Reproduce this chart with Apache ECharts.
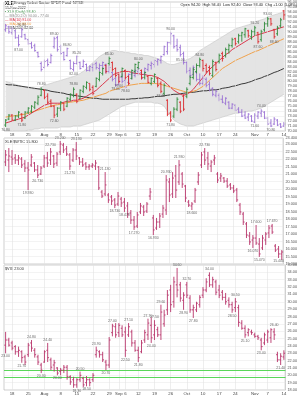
<!DOCTYPE html>
<html><head><meta charset="utf-8">
<script src="https://cdn.jsdelivr.net/npm/echarts@6/dist/echarts.min.js"></script>
<style>html,body{margin:0;padding:0;background:#fff}#c{width:300px;height:397px}</style>
</head><body><div id="c"></div>
<script>
const dates = ['2022-07-14','2022-07-15','2022-07-18','2022-07-19','2022-07-20','2022-07-21','2022-07-22','2022-07-25','2022-07-26','2022-07-27','2022-07-28','2022-07-29',
'2022-08-01','2022-08-02','2022-08-03','2022-08-04','2022-08-05','2022-08-08','2022-08-09','2022-08-10','2022-08-11','2022-08-12','2022-08-15','2022-08-16','2022-08-17','2022-08-18','2022-08-19','2022-08-22','2022-08-23','2022-08-24','2022-08-25','2022-08-26','2022-08-29','2022-08-30','2022-08-31',
'2022-09-01','2022-09-02','2022-09-06','2022-09-07','2022-09-08','2022-09-09','2022-09-12','2022-09-13','2022-09-14','2022-09-15','2022-09-16','2022-09-19','2022-09-20','2022-09-21','2022-09-22','2022-09-23','2022-09-26','2022-09-27','2022-09-28','2022-09-29','2022-09-30',
'2022-10-03','2022-10-04','2022-10-05','2022-10-06','2022-10-07','2022-10-10','2022-10-11','2022-10-12','2022-10-13','2022-10-14','2022-10-17','2022-10-18','2022-10-19','2022-10-20','2022-10-21','2022-10-24','2022-10-25','2022-10-26','2022-10-27','2022-10-28','2022-10-31',
'2022-11-01','2022-11-02','2022-11-03','2022-11-04','2022-11-07','2022-11-08','2022-11-09','2022-11-10','2022-11-11','2022-11-14'];
const tickDates = ['2022-07-18','2022-07-25','2022-08-01','2022-08-08','2022-08-15','2022-08-22','2022-08-29','2022-09-01','2022-09-06','2022-09-12','2022-09-19','2022-09-26','2022-10-03','2022-10-10','2022-10-17','2022-10-24','2022-11-01','2022-11-07','2022-11-14'];
const tickLabels = ['18','25','Aug','8','15','22','29','Sep','6','12','19','26','Oct','10','17','24','Nov','7','14'];

// XLE daily bars [open, high, low, close]
const xleBars = [[71.2,72.4,70.8,72.2],[72.4,73.4,72.2,73.2],[73.2,73.4,72.0,72.2],[72.2,73.2,72.0,73.0],[73.0,74.0,72.6,73.8],[73.4,73.6,71.8,72.2],[72.6,74.0,72.4,73.8],[73.8,74.8,73.4,74.6],[74.0,75.2,73.6,75.0],[74.8,76.0,74.4,75.8],[75.6,77.2,75.2,76.8],[77.2,78.8,77.0,78.4],
[78.2,78.4,76.4,76.8],[77.0,77.6,75.4,75.8],[76.0,76.4,74.8,75.0],[75.0,75.2,72.6,73.2],[73.4,74.8,72.8,74.6],[74.6,76.0,74.0,75.8],[75.6,75.6,74.0,74.4],[75.0,76.8,74.8,76.6],[76.4,77.6,76.0,77.4],[77.2,78.8,76.8,78.4],[77.4,77.6,75.6,76.0],[76.6,78.4,76.4,78.2],[78.0,79.2,77.6,79.0],[78.8,80.0,78.4,79.8],[79.6,79.6,78.0,78.4],[78.8,79.2,77.2,77.6],[79.0,80.8,78.8,80.6],[80.4,82.0,80.0,81.8],[81.6,82.8,81.2,82.6],[83.2,83.4,81.6,82.0],[83.6,85.0,83.2,84.6],[83.8,84.0,82.0,82.4],[82.6,82.8,80.8,81.2],
[81.4,81.6,79.6,80.0],[81.0,82.8,80.8,82.6],[82.2,82.4,80.4,80.8],[81.0,81.2,79.2,79.6],[80.6,82.4,80.4,82.2],[82.0,83.6,81.6,83.4],[82.8,84.0,82.4,83.8],[82.2,82.4,80.4,80.8],[80.8,82.0,80.4,81.8],[81.0,81.2,79.6,79.8],[79.6,80.8,79.2,80.6],[80.0,81.6,79.6,81.4],[80.6,80.8,78.8,79.2],[79.6,80.0,77.6,78.0],[77.6,79.6,77.2,79.2],[76.2,76.4,73.0,73.4],[73.6,74.0,71.8,72.2],[73.0,74.8,72.6,74.4],[74.4,76.8,74.0,76.4],[75.8,76.0,73.6,74.0],[77.0,77.4,74.0,74.4],
[77.0,78.8,76.6,78.4],[79.6,81.2,79.2,80.8],[80.8,82.8,80.4,82.4],[82.0,83.6,81.6,83.2],[83.2,84.8,82.8,84.4],[84.2,84.4,82.0,82.6],[83.2,83.6,81.6,82.0],[82.8,83.2,81.2,81.6],[81.2,84.4,80.8,84.0],[83.8,84.0,82.0,82.4],[84.0,85.6,83.6,85.2],[85.6,86.0,84.0,84.6],[85.2,86.8,84.8,86.4],[86.4,87.6,85.6,87.2],[87.2,88.8,86.8,88.4],[88.6,88.8,87.2,87.6],[88.0,89.6,87.6,89.2],[89.2,90.0,88.0,89.8],[89.4,90.8,88.8,90.6],[90.2,90.4,88.8,89.2],[89.0,90.4,88.4,90.0],
[90.0,91.2,89.2,90.8],[89.8,90.0,87.6,88.0],[88.4,90.4,88.0,90.0],[90.4,92.0,90.0,91.6],[91.6,93.0,91.0,92.6],[92.6,92.8,91.2,91.6],[90.4,90.6,88.6,89.0],[89.6,91.2,89.2,90.8],[91.2,92.8,90.8,92.4],[94.2,94.4,92.4,93.4]];

// comparison overlay (purple) [open, high, low, close]
const cmpBars = [[90.4,91.6,90.0,91.2],[91.0,91.2,89.6,90.0],[89.8,91.0,89.4,90.6],[90.2,90.4,88.6,88.8],[88.8,89.4,87.0,87.4],[89.0,90.8,88.8,90.4],[89.4,89.6,88.4,88.6],[88.4,88.6,87.4,87.6],[87.6,88.0,86.6,86.8],[87.2,87.6,86.0,86.2],[85.8,86.0,84.8,85.0],[83.6,84.0,82.0,82.4],
[82.8,84.4,82.6,84.0],[84.2,84.6,83.0,83.4],[83.8,85.6,83.6,85.2],[87.0,89.0,86.6,88.6],[88.8,89.2,86.0,86.4],[87.0,87.4,85.4,85.6],[85.8,86.0,84.2,84.4],[85.2,86.8,85.0,86.6],[84.2,84.4,82.4,82.6],[82.4,84.0,82.0,83.6],[83.6,85.2,83.4,85.0],[83.8,84.0,82.4,82.6],[83.0,84.4,82.8,84.0],[83.4,83.6,82.0,82.2],[82.2,83.2,82.0,83.0],[82.8,83.6,82.0,83.4],[83.6,84.0,82.4,82.8],[82.6,83.6,82.0,83.2],[83.2,84.0,82.4,83.8],[83.4,83.6,81.6,82.0],[82.0,83.2,81.6,82.8],[81.8,82.0,80.0,80.4],[80.6,80.8,79.0,79.2],
[79.4,81.2,79.2,80.8],[80.8,81.6,79.6,80.0],[80.2,80.8,78.6,78.8],[79.8,81.6,79.6,81.4],[81.4,82.0,80.4,81.6],[81.2,82.4,80.8,82.2],[82.0,82.8,81.2,82.6],[81.8,82.0,80.4,80.6],[81.4,82.8,81.2,82.6],[82.4,83.6,82.0,83.4],[83.2,84.0,82.4,83.6],[83.4,84.4,82.8,84.2],[84.0,84.6,83.2,84.4],[84.2,85.2,83.6,85.0],[85.4,87.2,85.2,87.0],[86.0,88.0,85.4,87.8],[87.8,90.0,87.4,89.6],[89.2,89.4,86.6,87.0],[87.2,88.6,86.0,86.4],[86.8,87.4,85.0,85.4],[85.6,86.0,83.4,83.8],
[83.8,84.0,81.6,82.0],[82.2,82.8,80.8,81.2],[81.4,83.2,81.2,82.8],[81.8,82.0,80.0,80.4],[80.4,81.6,79.2,79.6],[79.6,81.2,79.2,80.6],[80.4,80.8,78.8,79.2],[79.4,80.0,78.0,78.4],[78.6,78.8,77.0,77.4],[77.2,78.4,76.8,78.0],[77.2,77.6,76.0,76.4],[76.4,77.2,75.6,75.8],[75.6,76.8,75.2,76.6],[75.8,76.0,74.4,74.6],[74.6,75.6,74.4,75.4],[75.2,75.4,74.0,74.2],[74.4,74.8,73.6,73.8],[73.8,74.4,72.8,73.0],[73.2,74.0,72.4,72.6],[72.8,73.6,72.0,73.4],[73.0,73.2,71.8,72.0],
[71.8,73.6,71.6,73.2],[73.0,74.0,72.4,73.8],[73.6,74.4,72.8,74.0],[73.8,74.0,72.4,72.6],[72.6,72.8,71.2,71.4],[71.6,72.4,70.8,71.0],[71.4,72.8,71.2,72.4],[72.2,72.4,71.0,71.2],[71.4,71.6,70.6,70.8],[71.0,71.8,70.8,71.4]];

const maFast = [71.6,71.8,72.0,72.2,72.4,72.6,72.8,73.2,73.6,74.0,74.4,74.8,75.2,75.4,75.6,75.6,75.6,75.6,75.8,76.0,76.0,76.2,76.2,76.4,76.6,77.0,77.4,77.8,78.2,78.8,79.4,80.0,80.6,81.2,81.6,81.8,82.0,82.0,82.0,81.8,81.6,81.6,81.4,81.4,81.2,81.2,81.0,80.8,80.4,80.0,79.4,78.8,78.2,77.8,77.4,77.2,77.4,77.8,78.4,79.2,80.0,80.8,81.6,82.4,83.0,83.6,84.2,84.8,85.4,85.8,86.4,86.8,87.2,87.6,88.0,88.4,88.8,89.2,89.4,89.6,89.8,90.0,90.2,90.4,90.6,90.8,91.0];
const maMid = [72.8,72.9,73.0,73.1,73.2,73.3,73.4,73.6,73.8,74.0,74.2,74.4,74.6,74.8,75.0,75.2,75.3,75.4,75.6,75.7,75.8,75.9,76.0,76.1,76.2,76.4,76.6,76.8,77.0,77.2,77.4,77.6,78.0,78.2,78.4,78.6,78.8,79.0,79.2,79.3,79.4,79.5,79.6,79.6,79.6,79.6,79.6,79.5,79.4,79.2,79.0,78.8,78.6,78.4,78.2,78.0,77.8,77.8,78.0,78.2,78.6,79.0,79.6,80.2,80.8,81.4,82.0,82.6,83.0,83.4,83.8,84.2,84.5,84.8,85.1,85.4,85.7,86.0,86.2,86.5,86.8,87.1,87.4,87.7,88.0,88.3,88.6];
const maSlow = [79.4,79.3,79.3,79.2,79.1,79.0,78.9,78.8,78.7,78.6,78.5,78.4,78.3,78.2,78.0,77.9,77.8,77.7,77.6,77.4,77.3,77.2,77.1,77.0,76.9,76.8,76.7,76.6,76.6,76.5,76.4,76.4,76.4,76.4,76.4,76.4,76.4,76.4,76.4,76.5,76.5,76.6,76.6,76.7,76.7,76.8,76.9,77.0,77.0,77.1,77.2,77.3,77.4,77.4,77.5,77.6,77.7,77.8,77.8,77.9,78.0,78.1,78.1,78.2,78.3,78.3,78.4,78.6,78.7,78.8,79.0,79.1,79.3,79.5,79.6,79.8,80.0,80.3,80.5,80.7,81.0,81.2,81.5,81.8,82.0,82.3,82.6];
const bbUpper = [80.0,79.8,79.6,79.4,79.2,79.0,78.8,78.6,78.6,78.4,78.4,78.8,79.2,79.4,79.6,79.8,80.0,80.2,80.4,80.6,80.8,81.0,81.2,81.6,82.0,82.6,83.2,83.8,84.4,85.0,85.4,85.8,86.0,86.2,86.2,86.0,86.0,85.8,85.8,85.6,85.6,85.4,85.4,85.2,85.2,85.0,84.8,84.6,84.4,84.0,83.6,83.4,83.4,83.6,83.8,84.0,84.4,84.6,85.0,85.6,86.2,86.6,87.0,87.4,87.8,88.2,88.6,89.0,89.4,89.8,90.2,90.6,90.8,91.0,91.2,91.4,91.6,92.0,92.2,92.4,92.6,93.0,93.2,93.4,93.6,93.8,94.0];
const bbLower = [70.0,70.0,70.0,70.0,70.0,70.0,70.0,70.2,70.2,70.4,70.4,70.6,70.6,70.6,70.6,70.6,70.6,70.8,70.8,70.8,70.8,71.0,71.0,71.0,71.2,71.4,71.6,71.8,72.0,72.2,72.6,73.0,73.4,73.8,74.2,74.6,75.0,75.2,75.4,75.6,75.8,75.8,75.8,75.8,75.8,75.8,75.6,75.6,75.4,75.0,74.0,73.0,72.2,71.8,71.4,71.2,71.0,71.0,71.0,71.2,71.4,71.6,71.8,72.0,72.2,72.4,72.6,72.8,73.0,73.2,73.4,73.6,73.6,73.8,73.8,74.0,74.0,74.2,74.4,74.6,75.0,75.4,75.8,76.2,76.6,77.0,77.4];

// middle panel bars [open, high, low, close]
const midBars = [[21.8,22.6,21.53,22.27],[21.93,22.73,21.13,22.2],[22.13,22.6,21.6,22.0],[22.07,22.33,21.67,21.93],[21.93,22.27,21.6,22.07],[22.0,22.13,21.4,21.6],[21.67,21.93,21.13,21.4],[21.4,21.8,19.93,21.27],[21.6,22.33,21.47,22.13],[21.73,21.8,21.13,21.27],[21.27,21.6,20.73,20.93],[21.0,21.53,20.93,21.4],
[21.53,22.27,21.4,22.07],[22.07,22.47,21.47,21.73],[21.93,22.73,21.6,22.47],[22.2,22.27,21.4,21.67],[21.73,22.47,21.53,22.33],[22.47,23.2,22.27,23.0],[22.93,23.07,22.4,22.6],[22.67,22.87,22.2,22.33],[22.27,22.4,21.27,21.53],[21.93,22.73,21.8,22.6],[22.6,23.13,21.93,22.2],[22.07,22.13,21.6,21.8],[21.8,22.07,21.47,21.6],[21.67,21.8,21.27,21.47],[21.47,21.67,21.27,21.53],[21.53,21.73,21.4,21.6],[21.53,21.93,21.27,21.73],[21.47,21.53,19.93,20.07],[19.8,19.93,19.4,19.53],[19.67,21.13,19.53,20.27],[19.6,19.73,19.07,19.27],[19.47,19.6,18.93,19.2],[19.27,19.4,18.73,18.93],
[19.0,19.8,18.87,19.53],[19.33,19.47,18.8,19.07],[19.13,19.4,18.47,18.73],[18.87,19.13,18.07,18.33],[18.4,18.6,17.67,17.93],[17.93,18.2,17.27,17.47],[17.53,18.47,17.4,18.27],[18.47,19.07,18.33,18.87],[18.8,18.93,18.2,18.47],[18.53,19.13,18.4,19.0],[19.53,20.07,19.27,19.8],[18.07,18.27,16.93,17.27],[17.4,18.07,17.27,17.8],[17.8,18.4,17.4,18.2],[18.33,18.93,18.07,18.73],[18.6,20.93,18.27,20.6],[20.47,20.73,19.13,19.6],[19.67,21.13,19.4,20.73],[20.87,21.6,19.4,19.93],[20.47,21.93,20.27,21.6],[21.0,21.13,20.07,20.33],
[20.2,20.27,19.13,19.4],[19.13,19.27,18.8,18.93],[18.87,19.13,18.6,19.0],[19.2,20.07,19.07,19.93],[20.47,21.13,20.27,20.93],[21.6,22.47,21.4,22.27],[22.47,22.73,21.6,21.93],[22.07,22.47,21.27,21.67],[21.53,21.93,21.13,21.8],[21.93,22.27,21.6,22.07],[21.0,21.13,20.4,20.6],[20.73,21.07,20.47,20.87],[20.73,20.8,20.4,20.53],[20.53,20.73,20.07,20.2],[20.27,20.4,19.93,20.07],[20.07,20.27,19.73,19.87],[19.93,20.07,19.13,19.27],[18.93,19.07,18.27,18.47],[18.33,18.47,17.6,17.8],[17.67,17.8,16.73,16.93],[16.87,17.13,16.27,16.47],
[16.6,16.93,16.07,16.73],[16.73,17.6,16.27,16.4],[16.33,16.73,15.47,15.67],[16.07,16.93,15.93,16.73],[16.6,17.13,16.27,17.0],[17.07,17.6,16.73,17.4],[17.53,17.67,17.0,17.13],[16.2,16.33,15.8,15.93],[16.0,16.2,15.4,15.67],[15.67,15.93,15.27,15.8]];

// bottom panel bars [open, high, low, close]
const volBars = [[24.1,25.9,23.0,24.8],[24.8,25.1,23.9,24.1],[24.4,24.7,23.4,23.7],[23.9,24.1,22.8,23.2],[23.2,23.9,22.5,23.4],[23.2,23.4,21.7,22.4],[22.5,22.8,21.4,21.8],[22.8,24.4,22.5,24.1],[24.4,24.8,23.2,23.7],[23.4,23.7,22.4,22.8],[22.5,22.8,21.4,21.8],[21.4,21.7,20.3,20.7],
[21.8,23.4,21.7,23.2],[23.4,24.4,21.8,22.4],[22.1,22.4,20.7,21.1],[21.4,22.1,20.5,21.7],[21.0,21.1,20.0,20.3],[20.5,21.0,20.0,20.7],[20.7,21.4,20.3,21.1],[21.1,21.4,19.4,19.8],[19.8,20.0,18.7,19.1],[19.4,19.8,18.3,18.7],[18.7,19.6,18.3,19.4],[19.4,20.5,19.1,20.0],[19.6,19.8,18.4,18.7],[19.0,19.9,18.5,19.4],[19.4,19.6,18.5,19.0],[19.4,20.3,19.1,20.0],[22.8,23.9,22.4,23.4],[23.2,23.4,22.4,22.8],[22.8,23.2,21.8,22.1],[21.8,22.1,20.7,21.4],[21.4,25.2,21.0,24.8],[25.8,27.0,25.3,26.7],[26.6,27.1,25.1,25.5],
[25.8,27.1,25.2,26.8],[26.4,26.8,25.2,25.5],[25.9,26.6,22.5,23.4],[25.5,27.1,25.2,26.6],[25.9,26.2,23.9,24.4],[24.4,24.8,23.2,23.4],[23.4,23.9,21.8,22.4],[23.2,24.8,23.0,24.4],[24.8,26.2,24.4,25.8],[25.5,27.7,24.8,27.1],[26.8,27.9,24.4,25.1],[25.5,27.5,24.8,26.8],[26.2,26.6,25.2,25.5],[25.5,29.6,24.8,28.6],[27.0,28.9,26.6,28.2],[28.9,31.6,28.2,30.9],[31.6,32.3,28.6,29.6],[30.0,33.4,29.2,32.7],[32.3,34.6,30.6,31.6],[32.3,32.7,30.0,30.5],[30.2,31.3,28.9,30.9],
[32.3,32.7,30.5,30.9],[30.5,30.9,28.5,28.9],[28.9,29.6,27.8,29.2],[28.9,30.0,28.6,29.8],[29.6,30.9,29.2,30.6],[30.9,32.0,30.5,31.6],[31.6,33.2,31.3,32.7],[33.6,34.0,32.0,32.3],[32.3,33.4,31.9,33.0],[32.7,33.0,30.9,31.3],[31.6,32.3,30.5,30.9],[31.3,31.6,30.2,30.6],[30.6,31.2,29.6,30.0],[30.2,30.6,29.2,29.6],[29.6,30.0,28.5,28.9],[29.2,30.5,28.6,30.0],[29.2,29.6,26.6,27.2],[27.1,27.5,26.2,26.4],[26.4,26.8,25.1,25.5],[25.8,26.4,25.3,26.2],[25.9,26.2,25.5,25.8],
[25.5,25.8,25.1,25.3],[25.3,25.5,24.8,25.1],[24.8,25.1,23.4,23.9],[24.4,25.8,24.1,25.5],[24.8,26.2,24.4,25.9],[25.1,26.4,24.4,26.2],[25.9,26.4,24.8,25.5],[22.8,23.2,21.8,22.1],[22.1,23.0,21.4,22.6],[22.5,23.4,22.1,23.0]];
const volLevels = [20.7, 19.8];

// indices of swing highs / lows that carry value labels
const xleHighIdx = [11,21,32,41,60,77,81];
const xleLowIdx = [0,5,15,35,48,51,78,83];
const cmpHighIdx = [5,15,19,22,51,79];
const cmpLowIdx = [4,21,34,37,54,77,82];
const midHighIdx = [14,17,22,31,50,54,62,78,83];
const midLowIdx = [7,10,20,34,37,40,46,58,77,79,85];
const volHighIdx = [8,13,23,28,33,38,44,46,48,53,56,63,71,83];
const volLowIdx = [0,5,11,16,22,25,31,37,41,45,55,58,70,74,79,85];

const FF = 'Liberation Sans, Arial, sans-serif';
const C_UP = '#2f8a3a', C_DN = '#d9262a', C_CMP = '#9a70d4', C_BAR = '#b8336a';
const C_FAST = '#d8253b', C_MID = '#f19a3a', C_SLOW = '#262626';
const last = a => a[a.length - 1];

function ohlc(name, bars, gi, colorFn, z) {
  return {
    type: 'custom', name, xAxisIndex: gi, yAxisIndex: gi, z: z || 5,
    data: bars.map((b, i) => [i, b[0], b[1], b[2], b[3]]),
    encode: { x: 0, y: [1, 2, 3, 4] },
    renderItem: (params, api) => {
      const i = api.value(0), o = api.value(1), h = api.value(2), l = api.value(3), c = api.value(4);
      const ph = api.coord([i, h]), pl = api.coord([i, l]), po = api.coord([i, o]), pc = api.coord([i, c]);
      const w = api.size([1, 0])[0] * 0.42;
      const st = { stroke: colorFn(o, c), lineWidth: 0.9 };
      return { type: 'group', children: [
        { type: 'line', shape: { x1: ph[0], y1: ph[1], x2: pl[0], y2: pl[1] }, style: st },
        { type: 'line', shape: { x1: po[0] - w, y1: po[1], x2: po[0], y2: po[1] }, style: st },
        { type: 'line', shape: { x1: pc[0], y1: pc[1], x2: pc[0] + w, y2: pc[1] }, style: st }
      ]};
    }
  };
}
function valueLabels(bars, hiIdx, loIdx, gi, dec) {
  const data = [];
  hiIdx.forEach(i => data.push({ value: [i, bars[i][1]], label: { position: 'top' } }));
  loIdx.forEach(i => data.push({ value: [i, bars[i][2]], label: { position: 'bottom' } }));
  return { type: 'scatter', xAxisIndex: gi, yAxisIndex: gi, symbolSize: 0, z: 6, silent: true,
    data, label: { show: true, fontSize: 3.5, color: '#444', distance: 1, fontFamily: FF,
      formatter: p => p.value[1].toFixed(dec) } };
}
function lastBox(val, bg, dec, fg) {
  return { yAxis: val, label: { show: true, position: 'end', distance: 1, formatter: val.toFixed(dec), backgroundColor: bg,
    color: fg || '#fff', fontSize: 3.8, padding: [0, 1], fontFamily: FF }, lineStyle: { opacity: 0 } };
}
const vGrid = { silent: true, symbol: 'none', animation: false, label: { show: false },
  lineStyle: { color: '#e2e2e2', width: 0.6, type: 'solid' }, data: tickDates.map(d => ({ xAxis: d })) };

function xAxis(gi, show) {
  return { type: 'category', gridIndex: gi, data: dates, boundaryGap: true,
    axisLine: { show: false }, axisTick: { show: false }, splitLine: { show: false },
    axisLabel: { show: show, interval: (idx, val) => tickDates.includes(val),
      formatter: val => tickLabels[tickDates.indexOf(val)], fontSize: 4.3, color: '#444', margin: 2, fontFamily: FF } };
}
function yAxis(gi, min, max, interval, dec) {
  return { type: 'value', gridIndex: gi, position: 'right', min, max, interval, scale: true,
    axisLine: { show: false }, axisTick: { show: false },
    splitLine: { lineStyle: { color: '#e6e6e6', width: 0.5 } },
    axisLabel: { fontSize: 3.8, color: '#555', margin: 2, fontFamily: FF, formatter: v => v.toFixed(dec) } };
}

const xl = last(xleBars), xp = xleBars[xleBars.length - 2];
const chg = xl[3] - xp[3];
const headerRight = 'Open ' + xl[0].toFixed(2) + '  High ' + xl[1].toFixed(2) + '  Low ' + xl[2].toFixed(2) + '  Close ' + xl[3].toFixed(2) +
  '  Chg ' + (chg >= 0 ? '+' : '') + chg.toFixed(2) + ' (' + (chg / xp[3] * 100).toFixed(2) + '%)';

const option = {
  animation: false,
  backgroundColor: '#fff',
  textStyle: { fontFamily: FF },
  grid: [
    { left: 4, right: 12, top: 1, height: 130, show: true, borderColor: '#b0b0b0', borderWidth: 0.6, backgroundColor: '#fff' },
    { left: 4, right: 12, top: 138, height: 126, show: true, borderColor: '#b0b0b0', borderWidth: 0.6 },
    { left: 4, right: 12, top: 265, height: 125, show: true, borderColor: '#b0b0b0', borderWidth: 0.6 }
  ],
  xAxis: [xAxis(0, true), xAxis(1, false), xAxis(2, true)],
  yAxis: [yAxis(0, 70, 96, 1, 2), yAxis(1, 15, 23.4, 0.5, 3), yAxis(2, 18, 35, 1, 2)],
  series: [
    { type: 'custom', xAxisIndex: 0, yAxisIndex: 0, z: 1, silent: true, data: [[0, bbUpper[0]]],
      renderItem: (params, api) => {
        const pts = [];
        for (let i = 0; i < bbUpper.length; i++) pts.push(api.coord([i, bbUpper[i]]));
        for (let i = bbLower.length - 1; i >= 0; i--) pts.push(api.coord([i, bbLower[i]]));
        return { type: 'polygon', shape: { points: pts }, style: { fill: '#e4e4e4' } };
      } },
    { type: 'line', xAxisIndex: 0, yAxisIndex: 0, data: bbUpper, showSymbol: false, silent: true, z: 2,
      lineStyle: { color: '#c4c4c4', width: 0.6 }, markLine: vGrid },
    { type: 'line', xAxisIndex: 0, yAxisIndex: 0, data: bbLower, showSymbol: false, silent: true, z: 2,
      lineStyle: { color: '#c4c4c4', width: 0.6 } },
    { type: 'line', xAxisIndex: 0, yAxisIndex: 0, data: maSlow, showSymbol: false, silent: true, z: 3,
      lineStyle: { color: C_SLOW, width: 0.9 }, markLine: { silent: true, symbol: 'none', data: [lastBox(last(maSlow), C_SLOW, 2)] } },
    { type: 'line', xAxisIndex: 0, yAxisIndex: 0, data: maMid, showSymbol: false, silent: true, z: 3,
      lineStyle: { color: C_MID, width: 0.9 }, markLine: { silent: true, symbol: 'none', data: [lastBox(last(maMid), C_MID, 2)] } },
    { type: 'line', xAxisIndex: 0, yAxisIndex: 0, data: maFast, showSymbol: false, silent: true, z: 3,
      lineStyle: { color: C_FAST, width: 0.9 }, markLine: { silent: true, symbol: 'none', data: [lastBox(last(maFast), C_FAST, 2)] } },
    Object.assign(ohlc('cmp', cmpBars, 0, () => C_CMP, 4), { markLine: { silent: true, symbol: 'none', data: [lastBox(last(cmpBars)[3], C_CMP, 2)] } }),
    Object.assign(ohlc('XLE', xleBars, 0, (o, c) => c >= o ? C_UP : C_DN, 5), { markLine: { silent: true, symbol: 'none', data: [lastBox(xl[3], C_DN, 2)] } }),
    valueLabels(xleBars, xleHighIdx, xleLowIdx, 0, 2),
    valueLabels(cmpBars, cmpHighIdx, cmpLowIdx, 0, 2),
    Object.assign(ohlc('mid', midBars, 1, () => C_BAR, 5), { markLine: { silent: true, symbol: 'none', animation: false,
      lineStyle: { color: '#e2e2e2', width: 0.6, type: 'solid' },
      data: tickDates.map(d => ({ xAxis: d, label: { show: false } })).concat([lastBox(last(midBars)[3], C_BAR, 3)]) } }),
    valueLabels(midBars, midHighIdx, midLowIdx, 1, 3),
    Object.assign(ohlc('vol', volBars, 2, () => C_BAR, 5), { markLine: { silent: true, symbol: 'none', animation: false,
      lineStyle: { color: '#e2e2e2', width: 0.6, type: 'solid' },
      data: tickDates.map(d => ({ xAxis: d, label: { show: false } }))
        .concat(volLevels.map(v => ({ yAxis: v, label: { show: false }, lineStyle: { color: '#5ad65a', width: 1.2 } })))
        .concat([lastBox(last(volBars)[3], C_BAR, 2)]) } }),
    valueLabels(volBars, volHighIdx, volLowIdx, 2, 2)
  ],
  graphic: [
    { type: 'text', left: 5, top: 1, style: { text: 'XLE', font: 'bold 4.5px ' + FF, fill: '#000' } },
    { type: 'text', left: 14, top: 1.3, style: { text: 'Energy Select Sector SPDR Fund  NYSE', font: '3.8px ' + FF, fill: '#222' } },
    { type: 'text', left: 5, top: 6, style: { text: '15-Nov-2022', font: '3.6px ' + FF, fill: '#333' } },
    { type: 'text', left: 5, top: 10, style: { text: '\u25AA XLE (Daily) ' + xl[3].toFixed(2), font: '3.6px ' + FF, fill: '#2f8a3a' } },
    { type: 'text', left: 5, top: 14, style: { text: '\u2014 BB(20,2.0) ' + last(bbUpper).toFixed(2) + ' - ' + last(bbLower).toFixed(2), font: '3.6px ' + FF, fill: '#888' } },
    { type: 'text', left: 5, top: 18, style: { text: '\u2014 MA(10) ' + last(maFast).toFixed(2), font: '3.6px ' + FF, fill: C_FAST } },
    { type: 'text', left: 5, top: 22, style: { text: '\u2014 MA(20) ' + last(maMid).toFixed(2), font: '3.6px ' + FF, fill: C_MID } },
    { type: 'text', left: 5, top: 26, style: { text: '\u2014 MA(200) ' + last(maSlow).toFixed(2), font: '3.6px ' + FF, fill: C_SLOW } },
    { type: 'text', right: 3, top: 3, style: { text: headerRight, font: '3.8px ' + FF, fill: '#222' } },
    { type: 'text', left: 5, top: 139.5, style: { text: 'XLE:$WTIC ' + last(midBars)[3].toFixed(3), font: '3.8px ' + FF, fill: '#333' } },
    { type: 'text', left: 5, top: 266.5, style: { text: '$VIX ' + last(volBars)[3].toFixed(2), font: '3.8px ' + FF, fill: '#333' } }
  ]
};
const chart = echarts.init(document.getElementById('c'), null, { renderer: 'canvas' });
chart.setOption(option);
</script></body></html>
